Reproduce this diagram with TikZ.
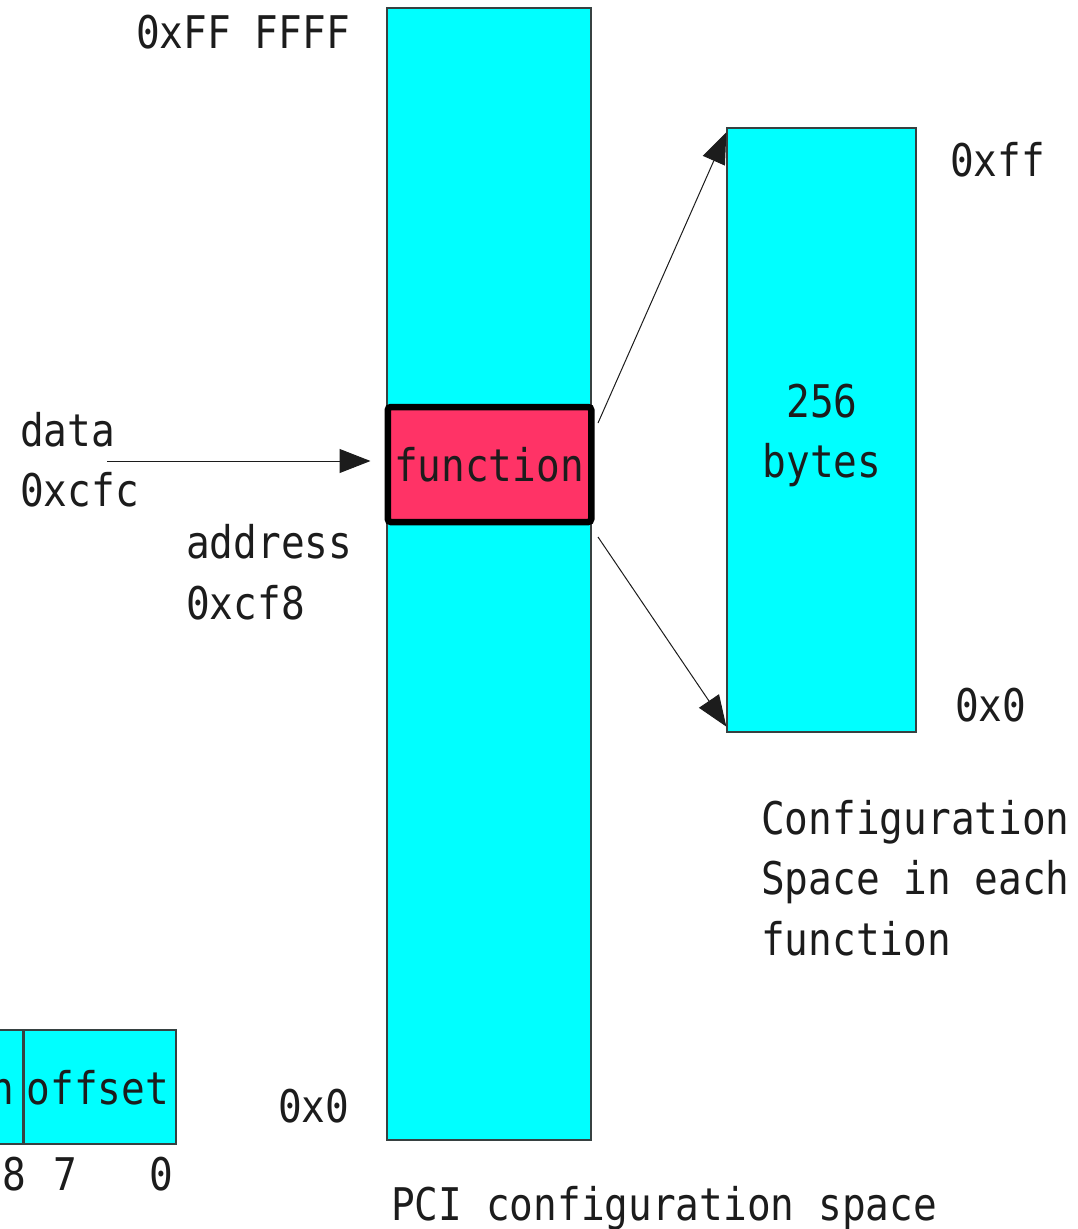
\documentclass[tikz,border=0pt]{standalone}
\usepackage{fontspec}
\newfontfamily\dvm{DejaVu Sans Mono}[FakeStretch=0.876]
\usetikzlibrary{arrows.meta}
\definecolor{memcyan}{RGB}{0,255,255}
\definecolor{funcred}{RGB}{255,51,102}
\definecolor{edgegray}{RGB}{55,65,65}
\definecolor{ink}{RGB}{28,28,28}
\tikzset{
  txt/.style={font=\dvm\fontsize{45}{61}\selectfont, text=ink, inner sep=0pt},
  membox/.style={draw=edgegray, line width=1.3pt, fill=memcyan, inner sep=0pt},
  funcbox/.style={draw=black, line width=6.5pt, rounded corners=3pt, fill=funcred, inner sep=0pt},
  ptr/.style={draw=ink, line width=1pt, -{Triangle[length=31pt,width=24pt]}},
}
\begin{document}
\begin{tikzpicture}[x=1pt,y=-1pt]
\useasboundingbox (0,0) rectangle (1077,1229);
\clip (0,0) rectangle (1077,1229);

% PCI configuration space column
\node[membox, minimum width=204pt, minimum height=1132pt] (pci) at (489,574) {};
\node[funcbox, minimum width=203.5pt, minimum height=115pt] (func) at (489.5,464.5) {};
\node[txt, anchor=base] (functxt) at (489,481) {function};

% per-function configuration space
\node[membox, minimum width=189pt, minimum height=604pt] (cfg) at (821.5,430) {};
\node[txt, anchor=base] (n256) at (822,417) {256};
\node[txt, anchor=base] (nbytes) at (822,477) {bytes};

% address labels
\node[txt, anchor=base east] (top) at (350,48) {0xFF FFFF};
\node[txt, anchor=base west] (bot) at (278,1122) {0x0};
\node[txt, anchor=base west] (cfgtop) at (950,176) {0xff};
\node[txt, anchor=base west] (cfgbot) at (955,721) {0x0};

% I/O ports
\node[txt, anchor=base west] (data) at (20,446) {data};
\node[txt, anchor=base west] (dataport) at (20,506) {0xcfc};
\node[txt, anchor=base west] (addr) at (186,558) {address};
\node[txt, anchor=base west] (addrport) at (186,619) {0xcf8};

% captions
\node[txt, anchor=base west] (cap1) at (761,834) {Configuration};
\node[txt, anchor=base west] (cap2) at (761,894) {Space in each};
\node[txt, anchor=base west] (cap3) at (761,955) {function};
\node[txt, anchor=base west] (pcicap) at (391,1220) {PCI configuration space};

% address register fields
\node[membox, minimum width=152pt, minimum height=114pt] (offcell) at (100,1087) {};
\node[membox, minimum width=200pt, minimum height=114pt, anchor=east] (fncell) at (offcell.west) {};
\node[txt, anchor=base] (offtxt) at (98,1104) {offset};
\node[txt, anchor=base east] (fntxt) at (14,1104) {function};
\node[txt, anchor=base] (b8) at (14,1190) {8};
\node[txt, anchor=base] (b7) at (65,1190) {7};
\node[txt, anchor=base] (b0) at (161,1190) {0};

% connectors
\coordinate (din) at (107,461);
\coordinate (up0) at (598,423);
\coordinate (dn0) at (598,537);
\draw[ptr, shorten >=14pt] (din) -- (din -| func.west);
\draw[ptr] (up0) -- ([yshift=-5pt]cfg.north west);
\draw[ptr] (dn0) -- ([yshift=6pt]cfg.south west);
\end{tikzpicture}
\end{document}
